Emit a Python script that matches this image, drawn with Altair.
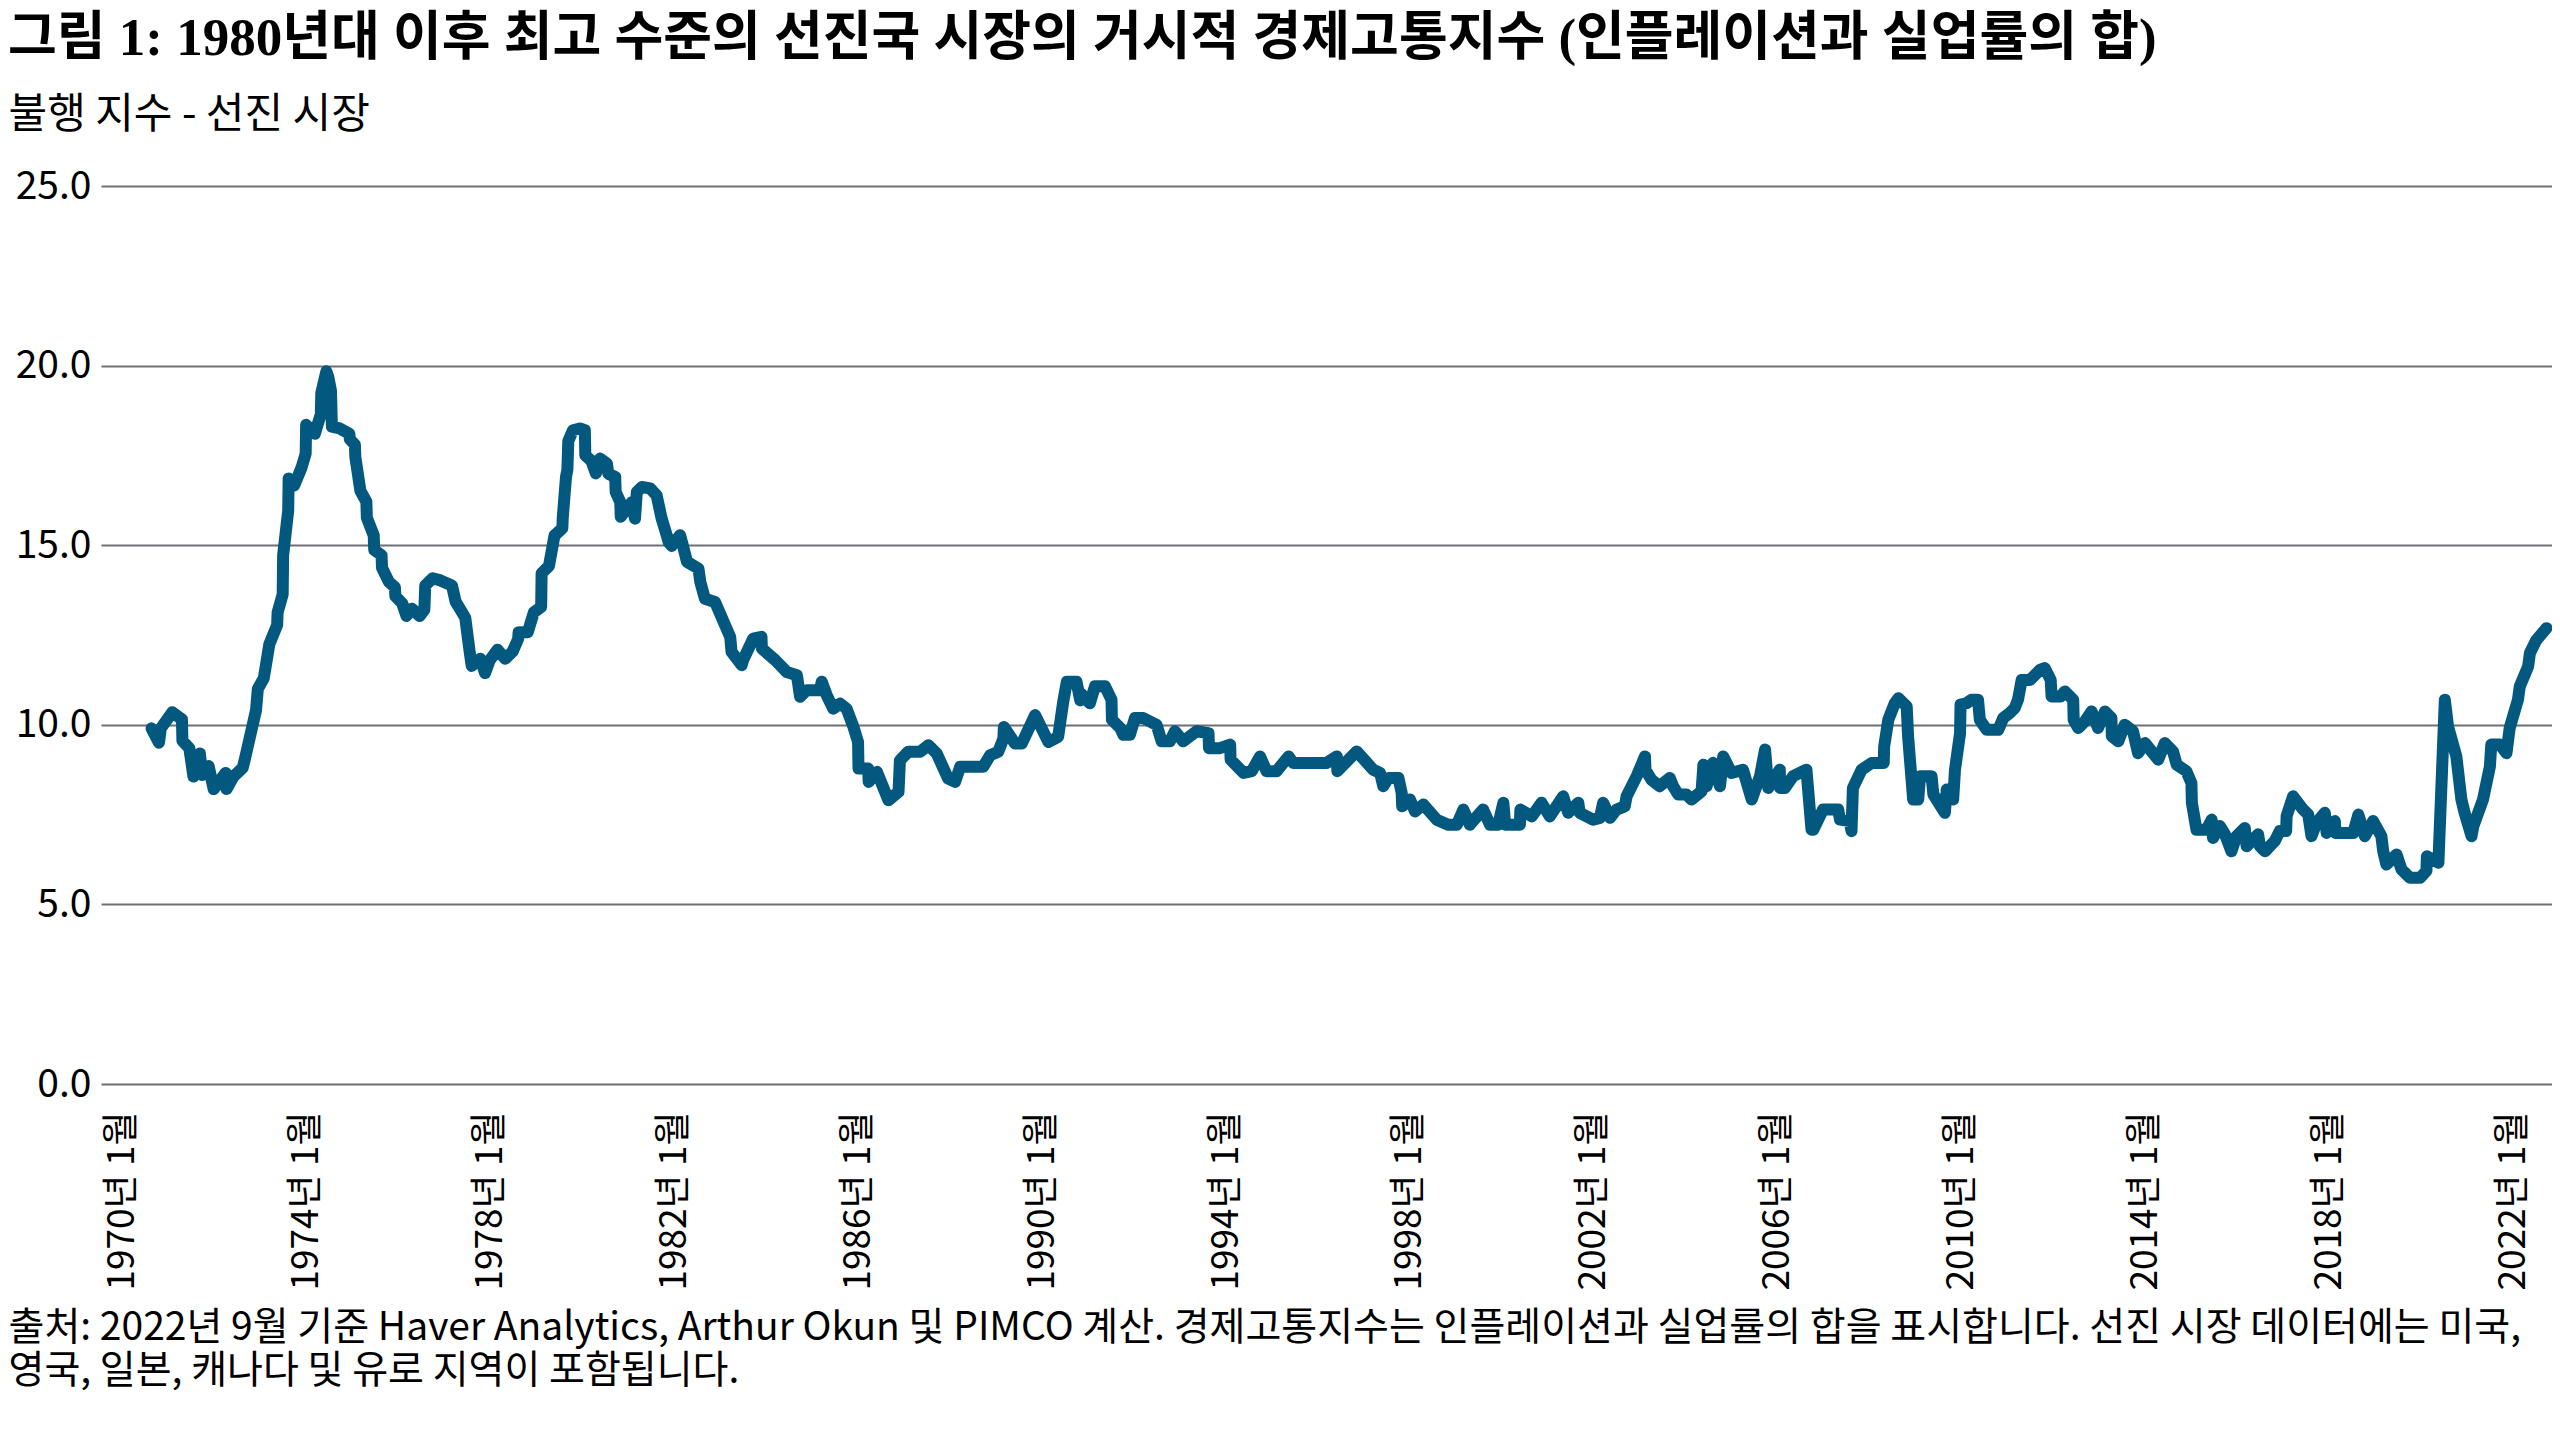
import altair as alt
import pandas as pd

# ---- data ----
years = [
    1970.64, 1970.80, 1970.84, 1971.09, 1971.30, 1971.31, 1971.46, 1971.55, 1971.69, 1971.74,
    1971.88, 1971.99, 1972.25, 1972.27, 1972.42, 1972.62, 1972.66, 1972.91, 1972.95, 1973.08,
    1973.20, 1973.37, 1973.38, 1973.49, 1973.50, 1973.61, 1973.62, 1973.74, 1973.90, 1973.99,
    1974.00, 1974.19, 1974.32, 1974.33, 1974.44, 1974.48, 1974.54, 1974.56, 1974.73, 1974.94,
    1974.95, 1975.06, 1975.07, 1975.18, 1975.31, 1975.32, 1975.47, 1975.48, 1975.64, 1975.65,
    1975.80, 1975.93, 1975.94, 1976.09, 1976.18, 1976.30, 1976.47, 1976.57, 1976.59, 1976.75,
    1976.92, 1977.17, 1977.25, 1977.46, 1977.50, 1977.56, 1977.60, 1977.79, 1977.89, 1977.99,
    1978.16, 1978.33, 1978.49, 1978.61, 1978.62, 1978.82, 1978.95, 1979.11, 1979.12, 1979.28,
    1979.40, 1979.57, 1979.58, 1979.65, 1979.68, 1979.70, 1979.80, 1979.95, 1980.06, 1980.07,
    1980.20, 1980.30, 1980.39, 1980.54, 1980.57, 1980.72, 1980.73, 1980.83, 1980.84, 1980.97,
    1981.08, 1981.15, 1981.19, 1981.30, 1981.48, 1981.62, 1981.73, 1981.84, 1981.88, 1981.95,
    1982.13, 1982.20, 1982.28, 1982.53, 1982.57, 1982.67, 1982.89, 1983.11, 1983.22, 1983.25,
    1983.47, 1983.50, 1983.72, 1983.90, 1983.91, 1984.20, 1984.45, 1984.67, 1984.74, 1984.88,
    1985.17, 1985.21, 1985.32, 1985.46, 1985.61, 1985.75, 1985.90, 1986.00, 1986.01, 1986.22,
    1986.23, 1986.41, 1986.66, 1986.88, 1986.91, 1987.09, 1987.35, 1987.53, 1987.71, 1987.96,
    1988.11, 1988.22, 1988.72, 1988.87, 1989.05, 1989.16, 1989.17, 1989.41, 1989.56, 1989.85,
    1990.14, 1990.35, 1990.46, 1990.54, 1990.75, 1990.83, 1990.84, 1991.04, 1991.15, 1991.37,
    1991.51, 1991.52, 1991.70, 1991.77, 1991.91, 1992.02, 1992.20, 1992.49, 1992.60, 1992.78,
    1992.89, 1993.07, 1993.36, 1993.62, 1993.63, 1993.87, 1994.09, 1994.10, 1994.38, 1994.56,
    1994.74, 1994.88, 1995.10, 1995.36, 1995.46, 1996.19, 1996.41, 1996.42, 1996.84, 1997.20,
    1997.35, 1997.42, 1997.53, 1997.75, 1997.82, 1997.83, 1998.00, 1998.11, 1998.29, 1998.58,
    1998.83, 1999.02, 1999.16, 1999.30, 1999.59, 1999.74, 1999.92, 2000.03, 2000.07, 2000.39,
    2000.40, 2000.65, 2000.86, 2001.04, 2001.33, 2001.44, 2001.66, 2001.69, 2001.98, 2002.13,
    2002.20, 2002.35, 2002.49, 2002.67, 2002.71, 2002.93, 2003.11, 2003.12, 2003.25, 2003.43,
    2003.65, 2003.72, 2003.83, 2004.01, 2004.12, 2004.34, 2004.38, 2004.45, 2004.59, 2004.74,
    2004.81, 2004.99, 2005.24, 2005.43, 2005.61, 2005.72, 2005.79, 2006.04, 2006.05, 2006.15,
    2006.33, 2006.62, 2006.73, 2006.77, 2006.98, 2007.31, 2007.35, 2007.56, 2007.60, 2007.63,
    2007.82, 2008.04, 2008.30, 2008.31, 2008.40, 2008.54, 2008.62, 2008.80, 2008.83, 2008.94,
    2009.05, 2009.09, 2009.34, 2009.38, 2009.63, 2009.67, 2009.81, 2009.85, 2009.96, 2009.97,
    2010.10, 2010.21, 2010.35, 2010.39, 2010.54, 2010.79, 2010.90, 2011.04, 2011.15, 2011.22,
    2011.30, 2011.48, 2011.70, 2011.80, 2011.93, 2011.95, 2012.15, 2012.24, 2012.42, 2012.43,
    2012.53, 2012.67, 2012.82, 2012.96, 2013.11, 2013.25, 2013.26, 2013.40, 2013.54, 2013.72,
    2013.83, 2013.98, 2014.27, 2014.41, 2014.59, 2014.67, 2014.88, 2014.99, 2015.00, 2015.10,
    2015.32, 2015.43, 2015.46, 2015.61, 2015.72, 2015.86, 2015.97, 2016.15, 2016.19, 2016.44,
    2016.48, 2016.59, 2016.80, 2016.91, 2017.05, 2017.06, 2017.20, 2017.42, 2017.53, 2017.60,
    2017.71, 2017.89, 2017.93, 2018.11, 2018.12, 2018.51, 2018.62, 2018.76, 2018.94, 2019.12,
    2019.16, 2019.23, 2019.45, 2019.56, 2019.74, 2019.96, 2020.10, 2020.11, 2020.36, 2020.50,
    2020.57, 2020.75, 2020.86, 2020.93, 2021.08, 2021.12, 2021.33, 2021.48, 2021.51, 2021.70,
    2021.84, 2021.91, 2022.09, 2022.13, 2022.31, 2022.35, 2022.49, 2022.71,
]
values = [
    9.90, 9.50, 9.90, 10.35, 10.15, 9.55, 9.35, 8.56, 9.20, 8.60,
    8.85, 8.21, 8.66, 8.21, 8.56, 8.80, 9.00, 10.40, 11.00, 11.30,
    12.24, 12.78, 13.13, 13.63, 14.72, 15.96, 16.86, 16.66, 17.16, 17.55,
    18.35, 18.10, 18.65, 19.24, 19.84, 19.69, 19.30, 18.30, 18.25, 18.10,
    17.95, 17.80, 17.45, 16.51, 16.21, 15.77, 15.27, 14.87, 14.72, 14.37,
    13.98, 13.83, 13.58, 13.38, 13.03, 13.23, 13.03, 13.20, 13.88, 14.08,
    14.02, 13.88, 13.43, 12.98, 12.58, 11.99, 11.64, 11.84, 11.44, 11.79,
    12.09, 11.84, 12.04, 12.39, 12.58, 12.58, 13.13, 13.28, 14.22, 14.42,
    15.27, 15.47, 15.77, 16.90, 17.10, 17.90, 18.20, 18.25, 18.20, 17.50,
    17.35, 17.00, 17.41, 17.27, 16.99, 16.90, 16.48, 16.20, 15.79, 16.02,
    16.20, 15.74, 16.48, 16.62, 16.58, 16.39, 15.74, 15.28, 15.09, 14.98,
    15.28, 14.95, 14.54, 14.35, 13.98, 13.51, 13.42, 12.77, 12.45, 12.03,
    11.66, 11.80, 12.40, 12.45, 12.12, 11.80, 11.47, 11.38, 10.78, 10.96,
    10.96, 11.20, 10.82, 10.45, 10.59, 10.45, 9.94, 9.52, 8.78, 8.78,
    8.41, 8.69, 7.90, 8.13, 9.01, 9.25, 9.25, 9.43, 9.20, 8.50,
    8.41, 8.83, 8.83, 9.15, 9.25, 9.62, 9.94, 9.48, 9.48, 10.27,
    9.52, 9.66, 10.64, 11.20, 11.20, 10.68, 10.88, 10.60, 11.07, 11.07,
    10.70, 10.14, 9.91, 9.72, 9.72, 10.19, 10.19, 10.00, 9.54, 9.54,
    9.82, 9.54, 9.82, 9.77, 9.35, 9.35, 9.45, 9.03, 8.66, 8.71,
    9.12, 8.71, 8.71, 9.12, 8.94, 8.94, 9.12, 8.71, 9.26, 8.75,
    8.66, 8.29, 8.52, 8.52, 8.10, 7.73, 7.92, 7.59, 7.78, 7.36,
    7.22, 7.22, 7.64, 7.22, 7.64, 7.22, 7.22, 7.83, 7.22, 7.22,
    7.64, 7.45, 7.83, 7.45, 8.01, 7.55, 7.83, 7.55, 7.36, 7.41,
    7.83, 7.41, 7.64, 7.73, 8.01, 8.57, 9.12, 8.75, 8.47, 8.29,
    8.52, 8.29, 8.06, 8.06, 7.92, 8.15, 8.89, 8.29, 8.94, 8.29,
    9.12, 8.66, 8.75, 7.92, 8.57, 9.31, 8.24, 8.75, 8.24, 8.24,
    8.57, 8.75, 7.08, 7.08, 7.64, 7.64, 7.36, 7.32, 7.04, 8.24,
    8.75, 8.94, 8.94, 9.40, 10.14, 10.60, 10.74, 10.51, 9.68, 7.92,
    7.92, 8.57, 8.57, 8.06, 7.55, 8.20, 7.92, 8.75, 9.77, 10.56,
    10.60, 10.70, 10.70, 10.14, 9.86, 9.86, 10.19, 10.33, 10.47, 10.70,
    11.25, 11.25, 11.53, 11.58, 11.25, 10.79, 10.79, 10.93, 10.70, 10.14,
    9.91, 10.09, 10.37, 9.91, 10.37, 10.19, 9.68, 9.54, 10.00, 9.82,
    9.21, 9.49, 9.03, 9.49, 9.26, 8.89, 8.71, 8.38, 7.83, 7.08,
    7.08, 7.36, 6.85, 7.18, 6.95, 6.48, 6.90, 7.13, 6.62, 6.95,
    6.62, 6.48, 6.76, 7.04, 7.04, 7.46, 8.01, 7.64, 7.50, 6.90,
    7.27, 7.55, 6.99, 7.32, 6.99, 6.99, 7.50, 6.90, 7.32, 6.90,
    6.48, 6.11, 6.39, 5.97, 5.74, 5.74, 5.93, 6.34, 6.16, 10.70,
    9.95, 9.12, 7.92, 7.55, 6.90, 7.18, 7.92, 8.84, 9.45, 9.45,
    9.21, 9.91, 10.70, 11.07, 11.62, 12.00, 12.36, 12.69,
]

tick_years = [1970, 1974, 1978, 1982, 1986, 1990, 1994, 1998, 2002, 2006, 2010, 2014, 2018, 2022]
y_ticks = [0, 5, 10, 15, 20, 25]

title_text = "그림 1: 1980년대 이후 최고 수준의 선진국 시장의 거시적 경제고통지수 (인플레이션과 실업률의 합)"
y_title = "불행 지수 - 선진 시장"
footer = [
    "출처: 2022년 9월 기준 Haver Analytics, Arthur Okun 및 PIMCO 계산. 경제고통지수는 인플레이션과 실업률의 합을 표시합니다. 선진 시장 데이터에는 미국,",
    "영국, 일본, 캐나다 및 유로 지역이 포함됩니다.",
]

df = pd.DataFrame({"year": years, "value": values, "i": list(range(len(years)))})

FONT = "Noto Sans CJK KR"
TITLE_FONT = "Liberation Serif, Noto Sans CJK KR"

chart = (
    alt.Chart(df)
    .mark_line(color="#03587F", strokeWidth=12, strokeJoin="round", strokeCap="round")
    .encode(
        x=alt.X(
            "year:Q",
            scale=alt.Scale(domain=[1969.54, 2022.83], nice=False, zero=False),
            axis=alt.Axis(
                values=tick_years,
                labelExpr="datum.value + '년 1월'",
                labelAngle=270,
                labelFontSize=37,
                labelPadding=27,
                labelLimit=400,
                labelColor="#000000",
                labelOverlap=False,
                grid=False,
                domain=False,
                ticks=False,
                title=footer,
                titleFontSize=39,
                titleFontWeight="normal",
                titleColor="#000000",
                titleAngle=0,
                titleAlign="left",
                titleBaseline="top",
                titleAnchor="start",
                titleX=-93,
                titleY=224,
                titleLineHeight=43,
            ),
        ),
        y=alt.Y(
            "value:Q",
            scale=alt.Scale(domain=[0, 25], nice=False),
            axis=alt.Axis(
                values=y_ticks,
                format=".1f",
                labelFontSize=39,
                labelPadding=10,
                labelColor="#000000",
                grid=True,
                gridColor="#6f7075",
                gridWidth=2,
                domain=False,
                ticks=False,
                title=y_title,
                titleFontSize=42,
                titleFontWeight="normal",
                titleColor="#000000",
                titleAngle=0,
                titleAlign="left",
                titleBaseline="middle",
                titleX=-93,
                titleY=-72,
            ),
        ),
        order=alt.Order("i:Q"),
    )
    .properties(
        width=2451,
        height=898,
        padding={"left": 93, "top": 178, "right": 0, "bottom": 330},
        autosize=alt.AutoSizeParams(type="none"),
        title=alt.TitleParams(
            text=title_text,
            anchor="start",
            frame="group",
            dx=-93,
            offset=27,
            fontSize=53,
            fontWeight="bold",
            color="#000000",
            font=TITLE_FONT,
        ),
    )
    .configure(font=FONT)
    .configure_view(stroke=None)
    .configure_axis(labelFont=FONT, titleFont=FONT)
)

chart.save("out.html", embed_options={"renderer": "svg", "actions": False})
